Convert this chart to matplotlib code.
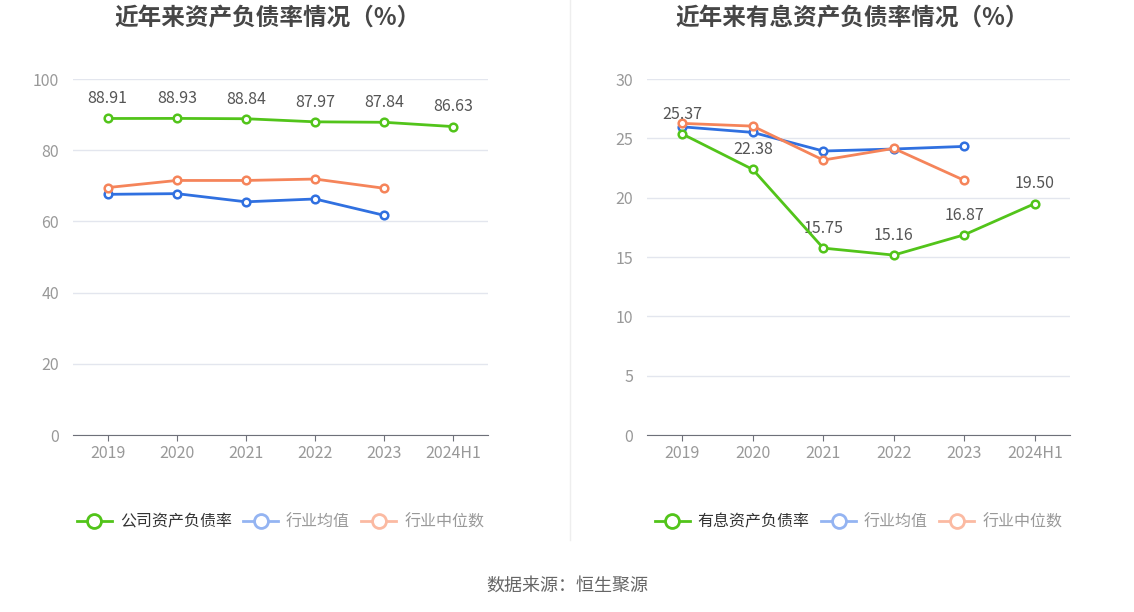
import matplotlib
matplotlib.use("Agg")
import matplotlib.pyplot as plt
from matplotlib.lines import Line2D

plt.rcParams['font.family'] = ['Noto Sans CJK SC', 'DejaVu Sans']

years = ['2019', '2020', '2021', '2022', '2023', '2024H1']

# left chart: asset-liability ratio
company_ratio = [88.91, 88.93, 88.84, 87.97, 87.84, 86.63]
industry_avg = [67.6, 67.8, 65.5, 66.3, 61.7]
industry_median = [69.5, 71.5, 71.5, 71.9, 69.3]

# right chart: interest-bearing asset-liability ratio
company_ib = [25.37, 22.38, 15.75, 15.16, 16.87, 19.50]
industry_avg_ib = [25.97, 25.5, 23.93, 24.1, 24.32]
industry_median_ib = [26.26, 26.03, 23.17, 24.15, 21.46]

green = '#52c41a'
blue = '#3070e0'
orange = '#f5845a'
green_light = '#52c41a'
blue_light = '#94b4f2'
orange_light = '#fbbaa2'

fig = plt.figure(figsize=(11.34, 6.12), dpi=100)

def draw(ax, main, avg, med, yticks, main_name):
    x = list(range(len(years)))
    ax.plot(x[:len(avg)], avg, color=blue, lw=2, marker='o', ms=5.5,
            mfc='white', mec=blue, mew=1.8, zorder=3)
    ax.plot(x[:len(med)], med, color=orange, lw=2, marker='o', ms=5.5,
            mfc='white', mec=orange, mew=1.8, zorder=3)
    ax.plot(x, main, color=green, lw=2, marker='o', ms=5.5,
            mfc='white', mec=green, mew=1.8, zorder=4)
    for xi, v in zip(x, main):
        ax.annotate(f'{v:.2f}', (xi, v), xytext=(0, 8), textcoords='offset points',
                    ha='center', va='bottom', fontsize=11.5, color='#555555')
    ax.set_xlim(-0.5, len(years) - 0.5)
    ax.set_ylim(yticks[0], yticks[-1])
    ax.set_yticks(yticks)
    ax.set_xticks(x)
    ax.set_xticklabels(years)
    ax.tick_params(axis='y', length=0, labelsize=11.5, labelcolor='#999999', pad=10)
    ax.tick_params(axis='x', length=4, color='#6e7079', labelsize=11.5,
                   labelcolor='#999999', pad=3)
    for s in ['top', 'right', 'left']:
        ax.spines[s].set_visible(False)
    ax.spines['bottom'].set_color('#6e7079')
    ax.grid(axis='y', color='#e3e6ee', lw=1)
    ax.set_axisbelow(True)
    handles = [
        Line2D([], [], color=green_light, lw=2, marker='o', ms=10, mfc='white', mew=2),
        Line2D([], [], color=blue_light, lw=2, marker='o', ms=10, mfc='white', mew=2),
        Line2D([], [], color=orange_light, lw=2, marker='o', ms=10, mfc='white', mew=2),
    ]
    leg = ax.legend(handles, [main_name, '行业均值', '行业中位数'], loc='center',
                    bbox_to_anchor=(0.5, -0.245), ncol=3, frameon=False,
                    fontsize=11.5, handlelength=2.2, columnspacing=0.7, handletextpad=0.5)
    cols = ['#333333', '#999999', '#999999']
    for t, c in zip(leg.get_texts(), cols):
        t.set_color(c)

ax1 = fig.add_axes([73 / 1134, 177 / 612, 415 / 1134, 356 / 612])
draw(ax1, company_ratio, industry_avg, industry_median, [0, 20, 40, 60, 80, 100], '公司资产负债率')

ax2 = fig.add_axes([647 / 1134, 177 / 612, 423 / 1134, 356 / 612])
draw(ax2, company_ib, industry_avg_ib, industry_median_ib, [0, 5, 10, 15, 20, 25, 30], '有息资产负债率')

fig.text(268 / 1134, 1 - 18 / 612, '近年来资产负债率情况（%）', ha='center', va='center',
         fontsize=17, fontweight='bold', color='#464646')
fig.text(852 / 1134, 1 - 18 / 612, '近年来有息资产负债率情况（%）', ha='center', va='center',
         fontsize=17, fontweight='bold', color='#464646')
fig.add_artist(Line2D([570 / 1134, 570 / 1134], [1 - 540 / 612, 1.0], color='#eeeeee', lw=1))
fig.text(567 / 1134, 1 - 586 / 612, '数据来源：恒生聚源', ha='center', va='center',
         fontsize=13, color='#666666')

fig.savefig('out.png', dpi=100)
